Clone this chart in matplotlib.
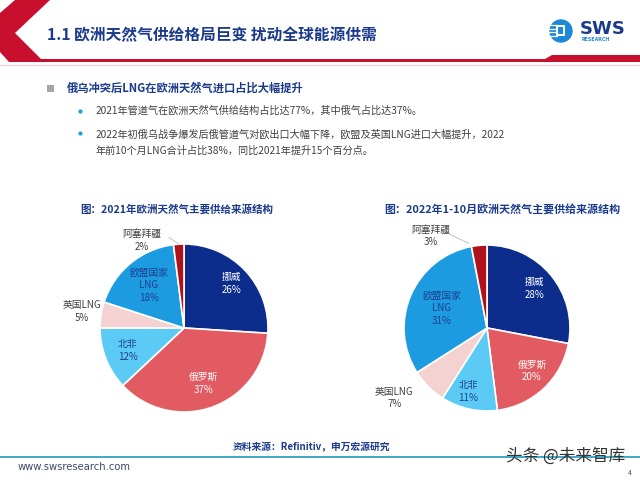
import matplotlib
matplotlib.use("Agg")
import matplotlib.pyplot as plt
import numpy as np
from matplotlib.patches import Polygon, Circle, Rectangle

plt.rcParams['font.family'] = ['Noto Sans CJK SC', 'DejaVu Sans']

# ---------------- data ----------------
sources = ['挪威', '俄罗斯', '北非', '英国LNG', '欧盟国家\nLNG', '阿塞拜疆']
share_2021 = [26, 37, 12, 5, 18, 2]
share_2022 = [28, 20, 11, 7, 31, 3]
colors = ['#0D2D8C', '#E25B62', '#5BCBF5', '#F5D2D2', '#1C9BE0', '#B0121B']
label_colors = ['white', 'white', '#1F3F8F', '#404040', '#1F3F8F', '#404040']

title = '1.1 欧洲天然气供给格局巨变 扰动全球能源供需'
headline = '俄乌冲突后LNG在欧洲天然气进口占比大幅提升'
bullets = ['2021年管道气在欧洲天然气供给结构占比达77%，其中俄气占比达37%。',
           '2022年初俄乌战争爆发后俄管道气对欧出口大幅下降，欧盟及英国LNG进口大幅提升，2022\n年前10个月LNG合计占比38%，同比2021年提升15个百分点。']
chart_titles = ['图：2021年欧洲天然气主要供给来源结构', '图：2022年1-10月欧洲天然气主要供给来源结构']
source_note = '资料来源：Refinitiv，申万宏源研究'

W, H = 640, 480
fig = plt.figure(figsize=(6.4, 4.8), dpi=100)
bg = fig.add_axes([0, 0, 1, 1])
bg.set_xlim(0, W)
bg.set_ylim(H, 0)
bg.axis('off')

red = '#C8102E'
navy = '#1B3A8C'
# header chevron and red rule
bg.add_patch(Polygon([(15, 0), (50, 0), (15, 33), (41, 59), (545, 59), (552, 55),
                      (640, 55), (640, 62), (9, 62), (0, 52), (0, 13)],
                     closed=True, color=red, lw=0))
bg.plot([0, 640], [64.5, 64.5], color='#F3C9C9', lw=0.8)
bg.text(47, 35, title, fontsize=11.3, fontweight='bold', color=navy, va='center', ha='left')

# logo
bg.add_patch(Circle((561, 31), 11, color='#1E88D8'))
for yy in [25, 28.5, 32, 35.5]:
    bg.plot([549, 557], [yy, yy], color='white', lw=0.9)
bg.add_patch(Rectangle((556, 25), 9, 11, facecolor='white', edgecolor='none'))
bg.add_patch(Rectangle((558, 27), 5, 7, facecolor='#1E88D8', edgecolor='none'))
bg.text(580, 29, 'SWS', fontsize=13, fontweight='bold', color=navy, va='center', ha='left',
        family='DejaVu Sans')
bg.text(582, 39.5, 'RESEARCH', fontsize=3.4, fontweight='bold', color='#1E88D8', va='center',
        ha='left', family='DejaVu Sans')

# bullets
bg.add_patch(Rectangle((47, 85), 7, 7, color='#A6A6A6', lw=0))
bg.text(67, 88.5, headline, fontsize=8.1, fontweight='bold', color=navy, va='center', ha='left')
bg.plot([80], [111], marker='o', ms=2.0, color='#1C9BE0')
bg.text(96, 111, bullets[0], fontsize=7.3, color='#404040', va='center', ha='left')
bg.plot([80], [133], marker='o', ms=2.0, color='#1C9BE0')
bg.text(96, 142.5, bullets[1], fontsize=7.3, color='#404040', va='center', ha='left', linespacing=1.75)

# chart titles
bg.text(177, 209, chart_titles[0], fontsize=7.6, fontweight='bold', color=navy, ha='center', va='center')
bg.text(502, 209, chart_titles[1], fontsize=7.9, fontweight='bold', color=navy, ha='center', va='center')

# footer
bg.text(311, 447, source_note, fontsize=7, fontweight='bold', color=navy, ha='center', va='center')
bg.plot([0, 640], [456.5, 456.5], color='#1E9BC0', lw=1.2)
bg.text(18, 467, 'www.swsresearch.com', fontsize=7.2, color='#3A4A6A', ha='left', va='center',
        family='DejaVu Sans')
bg.text(506, 456, '头条 @未来智库', fontsize=12, color='#333333', ha='left', va='center')
bg.text(628, 473, '4', fontsize=5, color='#555555', ha='left', va='center')


def draw_pie(cx, cy, r, values, label_pos):
    ax = fig.add_axes([(cx - r) / W, (H - cy - r) / H, 2 * r / W, 2 * r / H])
    wedges, _ = ax.pie(values, colors=colors, startangle=90, counterclock=False,
                       wedgeprops=dict(edgecolor='white', linewidth=1.2))
    ax.set_xlim(-1, 1)
    ax.set_ylim(-1, 1)
    ax.set_aspect('equal')
    ax.axis('off')
    for i, (w, v) in enumerate(zip(wedges, values)):
        mid = np.deg2rad((w.theta1 + w.theta2) / 2)
        dist, dang = label_pos[i]
        ang = mid + np.deg2rad(dang)
        x, y = dist * np.cos(ang), dist * np.sin(ang)
        ax.text(x, y, f'{sources[i]}\n{v}%', ha='center', va='center', fontsize=7,
                color=label_colors[i], linespacing=1.35, clip_on=False)
    return ax, wedges


# pie 1
ax1, w1 = draw_pie(184, 328, 84, share_2021,
                   [(0.78, 0), (0.7, 0), (0.72, 0), (1.23, 0), (0.66, 0), (1.16, 22)])
m = np.deg2rad((w1[5].theta1 + w1[5].theta2) / 2)
ax1.plot([0.97 * np.cos(m) - 0.12, 1.02 * np.cos(m)], [1.08, 1.0], color='#BBBBBB', lw=0.6,
         clip_on=False)

# pie 2
ax2, w2 = draw_pie(487, 328, 83, share_2022,
                   [(0.75, 0), (0.75, 3), (0.8, -4), (1.4, -8), (0.6, 0), (1.3, 26)])
ax2.plot([-0.45, -0.22], [1.13, 1.02], color='#BBBBBB', lw=0.6, clip_on=False)

fig.savefig('out.png', dpi=100, facecolor='white')
